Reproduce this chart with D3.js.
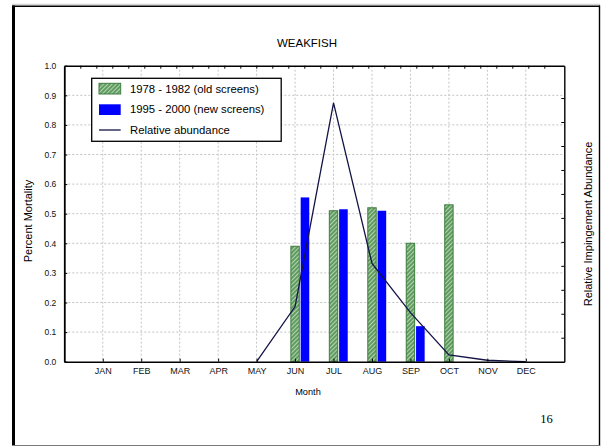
<!DOCTYPE html>
<html>
<head>
<meta charset="utf-8">
<script src="https://cdn.jsdelivr.net/npm/d3@7"></script>
<style>
  body { margin: 0; background: #fff; }
  svg { display: block; font-family: Arial, "Liberation Sans", sans-serif; }
  .grid line { stroke: #c4c4c4; stroke-dasharray: 2,2; }
  .axis path, .axis line { stroke: #000; }
</style>
</head>
<body>
<svg id="chart" width="602" height="447"></svg>
<script>
// chart data
let months = ['JAN', 'FEB', 'MAR', 'APR', 'MAY', 'JUN', 'JUL', 'AUG', 'SEP', 'OCT', 'NOV', 'DEC']
let oldScreens = [
    {month: 'JUN', value: 0.39},
    {month: 'JUL', value: 0.51},
    {month: 'AUG', value: 0.52},
    {month: 'SEP', value: 0.40},
    {month: 'OCT', value: 0.53}
]
let newScreens = [
    {month: 'JUN', value: 0.555},
    {month: 'JUL', value: 0.515},
    {month: 'AUG', value: 0.51},
    {month: 'SEP', value: 0.12}
]
// relative abundance, in right axis units
let abundance = [
    {month: 'MAY', value: 0},
    {month: 'JUN', value: 0.23},
    {month: 'JUL', value: 1.08},
    {month: 'AUG', value: 0.41},
    {month: 'SEP', value: 0.205},
    {month: 'OCT', value: 0.028},
    {month: 'NOV', value: 0.006},
    {month: 'DEC', value: 0}
]
let yTicks = [0, 0.1, 0.2, 0.3, 0.4, 0.5, 0.6, 0.7, 0.8, 0.9, 1.0]
let legendLabels = ['1978 - 1982 (old screens)', '1995 - 2000 (new screens)', 'Relative abundance']

let svg = d3.select('#chart')
let margin = {top: 65.7, right: 37.7, bottom: 85.3, left: 64.3}
let width = 602 - margin.left - margin.right
let height = 447 - margin.top - margin.bottom

// page frame
svg.append('line').attr('x1', 12).attr('x2', 600).attr('y1', 4.3).attr('y2', 4.3)
    .attr('stroke', '#c8c8c8').attr('stroke-width', 1)
svg.append('line').attr('x1', 12).attr('x2', 600).attr('y1', 6.3).attr('y2', 6.3)
    .attr('stroke', '#000').attr('stroke-width', 1.6)
svg.append('line').attr('x1', 13.5).attr('x2', 13.5).attr('y1', 5.5).attr('y2', 446)
    .attr('stroke', '#000').attr('stroke-width', 3)
svg.append('line').attr('x1', 599.5).attr('x2', 599.5).attr('y1', 5.5).attr('y2', 446)
    .attr('stroke', '#000').attr('stroke-width', 1.4)
svg.append('line').attr('x1', 12).attr('x2', 600).attr('y1', 445.5).attr('y2', 445.5)
    .attr('stroke', '#7a7a7a').attr('stroke-width', 1.2)

// hatch pattern for old screens
let defs = svg.append('defs')
let pat = defs.append('pattern')
    .attr('id', 'hatch')
    .attr('patternUnits', 'userSpaceOnUse')
    .attr('width', 3).attr('height', 3)
    .attr('patternTransform', 'rotate(45)')
pat.append('rect').attr('width', 3).attr('height', 3).attr('fill', '#5f9c5f')
pat.append('line').attr('x1', 0).attr('x2', 0).attr('y1', 0).attr('y2', 3)
    .attr('stroke', '#e6f0e2').attr('stroke-width', 1.3)

let g = svg.append('g').attr('transform', 'translate(' + margin.left + ',' + margin.top + ')')

let x = d3.scalePoint().domain(months).range([0, width]).padding(1)
let y = d3.scaleLinear().domain([0, 1]).range([height, 0])
let y2 = d3.scaleLinear().domain([0, 1.235]).range([height, 0])
let xTop = d3.scaleLinear().domain([0, 31.25]).range([0, width])

// grid
g.append('g').attr('class', 'grid')
    .selectAll('line').data(months).enter().append('line')
    .attr('x1', d => x(d)).attr('x2', d => x(d))
    .attr('y1', 0).attr('y2', height)
g.append('g').attr('class', 'grid')
    .selectAll('line').data(yTicks.slice(1, -1)).enter().append('line')
    .attr('x1', 0).attr('x2', width)
    .attr('y1', d => y(d)).attr('y2', d => y(d))

// bars
g.selectAll('.oldBar').data(oldScreens).enter().append('rect')
    .attr('class', 'oldBar')
    .attr('x', d => x(d.month) - 4.2)
    .attr('width', 8.4)
    .attr('y', d => y(d.value))
    .attr('height', d => height - y(d.value))
    .attr('fill', 'url(#hatch)')
    .attr('stroke', '#3f7d3f')
    .attr('stroke-width', 1)

g.selectAll('.newBar').data(newScreens).enter().append('rect')
    .attr('class', 'newBar')
    .attr('x', d => x(d.month) + 5.6)
    .attr('width', 8.6)
    .attr('y', d => y(d.value))
    .attr('height', d => height - y(d.value))
    .attr('fill', '#0000ff')

// abundance line
let line = d3.line().x(d => x(d.month)).y(d => y2(d.value))
g.append('path').datum(abundance)
    .attr('d', line)
    .attr('fill', 'none')
    .attr('stroke', '#141446')
    .attr('stroke-width', 1.3)

// axes
let fontTick = 8.5
g.append('g').attr('class', 'axis')
    .attr('transform', 'translate(0,' + height + ')')
    .call(d3.axisBottom(x).tickSizeInner(-3).tickSizeOuter(0).tickPadding(6.4))
    .call(a => a.select('.domain').attr('stroke-width', 1.6))
    .selectAll('text').attr('font-size', 9).attr('fill', '#111')

g.append('g').attr('class', 'axis')
    .call(d3.axisLeft(y).tickValues(yTicks).tickFormat(d3.format('.1f'))
        .tickSizeInner(-3).tickSizeOuter(0).tickPadding(8))
    .call(a => a.select('.domain').attr('stroke-width', 1.8))
    .selectAll('text').attr('font-size', fontTick).attr('fill', '#111')

g.append('g').attr('class', 'axis')
    .attr('transform', 'translate(' + width + ',0)')
    .call(d3.axisRight(y2).tickValues(d3.range(1, 12).map(d => d / 10))
        .tickSizeInner(-3).tickSizeOuter(0).tickFormat(''))
    .call(a => a.select('.domain').attr('stroke-width', 1.4))

g.append('g').attr('class', 'axis')
    .call(d3.axisTop(xTop).tickValues(d3.range(1, 31)).tickSizeInner(-3).tickSizeOuter(0).tickFormat(''))
    .call(a => a.select('.domain').attr('stroke-width', 1.4))

// titles
svg.append('text')
    .attr('x', 307).attr('y', 46.7)
    .attr('text-anchor', 'middle')
    .attr('font-size', 11.5)
    .text('WEAKFISH')

svg.append('text')
    .attr('x', 308).attr('y', 394.8)
    .attr('text-anchor', 'middle')
    .attr('font-size', 9.2)
    .text('Month')

svg.append('text')
    .attr('transform', 'translate(32,221) rotate(-90)')
    .attr('text-anchor', 'middle')
    .attr('font-size', 11)
    .text('Percent Mortality')

svg.append('text')
    .attr('transform', 'translate(591.5,224) rotate(-90)')
    .attr('text-anchor', 'middle')
    .attr('font-size', 11)
    .text('Relative Impingement Abundance')

svg.append('text')
    .attr('x', 546.5).attr('y', 423.3)
    .attr('text-anchor', 'middle')
    .attr('font-family', '"Liberation Serif", "Times New Roman", serif')
    .attr('font-size', 12.5)
    .text('16')

// legend
let legend = svg.append('g').attr('transform', 'translate(91.7,78.3)')
legend.append('rect')
    .attr('width', 189.5).attr('height', 63)
    .attr('fill', '#fff').attr('stroke', '#000').attr('stroke-width', 1.3)

legend.append('rect')
    .attr('x', 7.3).attr('y', 5).attr('width', 21.7).attr('height', 10.7)
    .attr('fill', 'url(#hatch)').attr('stroke', '#3f7d3f')
legend.append('rect')
    .attr('x', 7.3).attr('y', 26).attr('width', 21.7).attr('height', 10.7)
    .attr('fill', '#0000ff')
legend.append('line')
    .attr('x1', 7.3).attr('x2', 29).attr('y1', 51.7).attr('y2', 51.7)
    .attr('stroke', '#141446').attr('stroke-width', 1.3)

legend.selectAll('.legendLabel').data(legendLabels).enter().append('text')
    .attr('class', 'legendLabel')
    .attr('x', 38.3)
    .attr('y', (d, i) => 14.4 + i * 20.8)
    .attr('font-size', 11.3)
    .text(d => d)
</script>
</body>
</html>
